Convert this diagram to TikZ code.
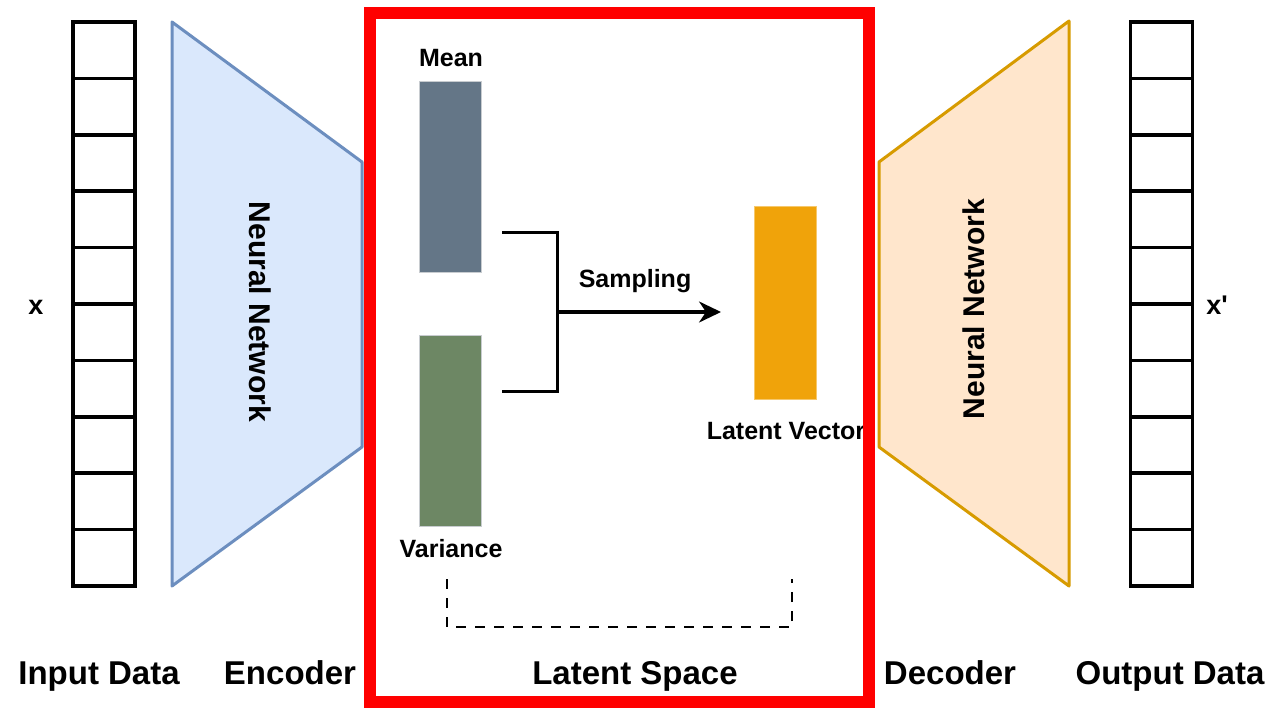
\documentclass[tikz,border=0pt]{standalone}
\usepackage{fontspec}
\setmainfont{Liberation Sans}
\usetikzlibrary{arrows.meta}
\definecolor{encfill}{HTML}{DAE8FC}
\definecolor{encline}{HTML}{6C8EBF}
\definecolor{decfill}{HTML}{FFE6CC}
\definecolor{decline}{HTML}{D79B00}
\definecolor{meanfill}{HTML}{647687}
\definecolor{varfill}{HTML}{6D8764}
\definecolor{latfill}{HTML}{F0A30A}
\definecolor{boxline}{HTML}{C8CCD0}
\definecolor{redline}{HTML}{FF0000}
\tikzset{
  cell/.style={draw=black, line width=3.5pt, minimum width=62pt, minimum height=56.4pt, inner sep=0pt, outer sep=0pt, fill=white},
  bar/.style={draw=boxline, line width=1pt, minimum width=62pt, inner sep=0pt},
  lbl/.style={font=\bfseries\fontsize{25}{30}\selectfont, inner sep=0pt, anchor=base},
  biglbl/.style={font=\bfseries\fontsize{33}{38}\selectfont, inner sep=0pt, anchor=base},
  nnlbl/.style={font=\bfseries\fontsize{30}{36}\selectfont, inner sep=0pt},
  conn/.style={line width=3pt, black},
  dashline/.style={line width=2.5pt, dash pattern=on 10pt off 9pt, black}
}
\begin{document}
\begin{tikzpicture}[x=1pt,y=-1pt]
\useasboundingbox (0,0) rectangle (1273,708);
\fill[white] (0,0) rectangle (1273,708);

% input and output columns
\foreach \i in {0,...,9} {
  \node[cell] (in\i) at (104, {22+28.2+56.4*\i}) {};
  \node[cell] (out\i) at (1161.5, {22+28.2+56.4*\i}) {};
}

% encoder and decoder
\draw[encline, fill=encfill, line width=3pt, line join=round] (172,22) -- (362,162) -- (362,447) -- (172,586) -- cycle;
\node[nnlbl, rotate=-90] (enctext) at (260,312) {Neural Network};
\draw[decline, fill=decfill, line width=3pt, line join=round] (879,162) -- (1069,21) -- (1069,586) -- (879,447) -- cycle;
\node[nnlbl, rotate=90] (dectext) at (974,309) {Neural Network};

% latent space contents
\node[bar, fill=meanfill, minimum height=191pt] (mean) at (450,177.5) {};
\node[bar, fill=varfill, minimum height=191pt] (var) at (450,430.5) {};
\node[bar, draw=latfill!60, fill=latfill, minimum height=192pt] (lat) at (785,303) {};
\node[lbl] (meanlbl) at (451,67) {Mean};
\node[lbl] (varlbl) at (451,557) {Variance};
\node[lbl] (latlbl) at (786,439) {Latent Vector};
\node[lbl] (samplbl) at (635,288) {Sampling};

\coordinate (m1) at (502,233);
\coordinate (v1) at (502,391);
\coordinate (j) at (557,312);
\coordinate (tip) at (721,312);
\draw[conn] (m1) -- (557,233) -- (557,391) -- (v1);
\draw[conn, -{Stealth[length=22pt, width=21pt, inset=7pt]}] (j) -- (tip);

\coordinate (d1) at (447,579);
\coordinate (d2) at (792,579);
\draw[dashline] (d1) -- (447,627) -- (792,627) -- (d2);

% labels
\node[biglbl] (latspace) at (635,684) {Latent Space};
\node[biglbl] (inlbl) at (99,684) {Input Data};
\node[biglbl] (enclbl) at (290,684) {Encoder};
\node[biglbl] (declbl) at (950,684) {Decoder};
\node[biglbl] (outlbl) at (1170,684) {Output Data};
\node[font=\bfseries\fontsize{27}{32}\selectfont, inner sep=0pt, anchor=base] (xlbl) at (36,314) {x};
\node[font=\bfseries\fontsize{27}{32}\selectfont, inner sep=0pt, anchor=base] (xplbl) at (1217,314) {x\textquotesingle};

% red box
\draw[redline, line width=12pt] (370,13) rectangle (869,702);
\end{tikzpicture}
\end{document}
